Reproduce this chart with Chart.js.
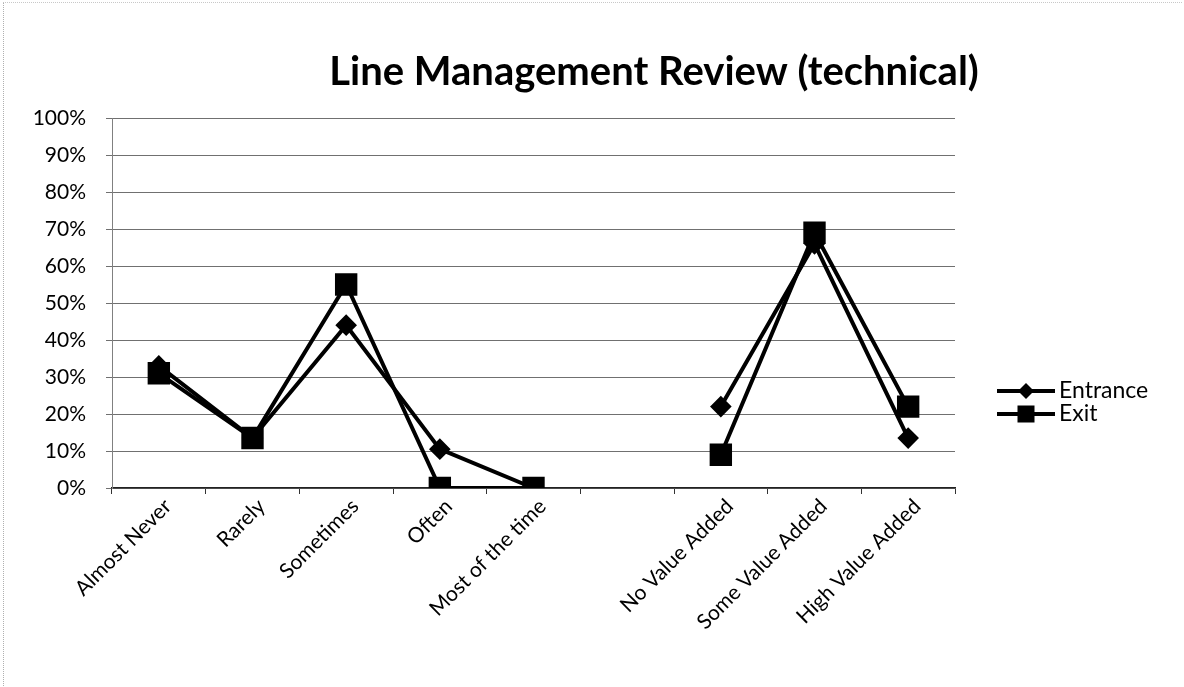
<!DOCTYPE html>
<html>
<head>
<meta charset="utf-8">
<script src="https://cdn.jsdelivr.net/npm/chart.js@4/dist/chart.umd.min.js"></script>
<style>
  html, body { margin: 0; padding: 0; background: #fff; }
  #wrap { position: relative; width: 1184px; height: 687px; }
  #frame { position: absolute; left: 3px; top: 2px; width: 1178px; height: 683px;
           border-left: 1px dotted #b0b0b0; border-top: 1px dotted #c8c8c8; pointer-events: none; }
</style>
</head>
<body>
<div id="wrap">
  <canvas id="c" width="1184" height="687"></canvas>
  <div id="frame"></div>
</div>
<script>
const chartTitle = 'Line Management Review (technical)';
const categories = ['Almost Never', 'Rarely', 'Sometimes', 'Often', 'Most of the time', '', 'No Value Added', 'Some Value Added', 'High Value Added'];
const entranceValues = [33, 13.5, 44, 10.5, 0, null, 22, 66, 13.5];
const exitValues = [31, 13.5, 55, 0, 0, null, 9, 69, 22];
const seriesNames = ['Entrance', 'Exit'];
const yTickValues = [0, 10, 20, 30, 40, 50, 60, 70, 80, 90, 100];

const FONT = 'Lato, "Open Sans", "DejaVu Sans", sans-serif';

const titlePlugin = {
  id: 'placedTitle',
  afterDraw(chart) {
    const ctx = chart.ctx;
    ctx.save();
    ctx.fillStyle = '#000';
    ctx.font = 'bold 40px ' + FONT;
    ctx.textAlign = 'center';
    ctx.textBaseline = 'middle';
    ctx.fillText(chartTitle, 654, 72);
    ctx.restore();
  }
};

const legendPlugin = {
  id: 'sideLegend',
  afterDraw(chart) {
    const ctx = chart.ctx;
    const x0 = 997, x1 = 1055, tx = 1059;
    const ys = [391, 414];
    chart.data.datasets.forEach((ds, i) => {
      const y = ys[i];
      ctx.save();
      ctx.strokeStyle = ds.borderColor;
      ctx.lineWidth = 4;
      ctx.beginPath(); ctx.moveTo(x0, y); ctx.lineTo(x1, y); ctx.stroke();
      ctx.fillStyle = ds.pointBackgroundColor;
      const cx = (x0 + x1) / 2;
      if (ds.pointStyle === 'rectRot') {
        const r = 8;
        ctx.beginPath(); ctx.moveTo(cx, y - r); ctx.lineTo(cx + r, y); ctx.lineTo(cx, y + r); ctx.lineTo(cx - r, y); ctx.closePath(); ctx.fill();
      } else {
        const s = 17;
        ctx.fillRect(cx - s / 2, y - s / 2, s, s);
      }
      ctx.fillStyle = '#000';
      ctx.font = '23px ' + FONT;
      ctx.textBaseline = 'middle';
      ctx.textAlign = 'left';
      ctx.fillText(ds.label, tx, y);
      ctx.restore();
    });
  }
};

new Chart(document.getElementById('c'), {
  type: 'line',
  data: {
    labels: categories,
    datasets: [
      { label: seriesNames[0], data: entranceValues, borderColor: '#000', backgroundColor: '#000',
        pointBackgroundColor: '#000', pointBorderColor: '#000', borderWidth: 4,
        pointStyle: 'rectRot', pointRadius: 8, pointHoverRadius: 8, spanGaps: false, tension: 0 },
      { label: seriesNames[1], data: exitValues, borderColor: '#000', backgroundColor: '#000',
        pointBackgroundColor: '#000', pointBorderColor: '#000', borderWidth: 4,
        pointStyle: 'rect', pointRadius: 13, pointHoverRadius: 13, spanGaps: false, tension: 0 }
    ]
  },
  options: {
    responsive: false,
    animation: false,
    layout: { padding: { left: 0, right: 229, top: 118, bottom: 0 } },
    plugins: {
      legend: { display: false },
      tooltip: { enabled: false },
      title: { display: false }
    },
    scales: {
      x: {
        offset: true,
        grid: { display: true, drawOnChartArea: false, drawTicks: true, tickLength: 6, offset: true, color: '#333' },
        border: { display: true, color: '#222', width: 1.5 },
        ticks: { color: '#000', font: { family: FONT, size: 21 }, maxRotation: 45, minRotation: 45, autoSkip: false, padding: 0, labelOffset: 9 },
        afterFit(scale) { scale.height = 199; }
      },
      y: {
        min: 0, max: 100,
        afterBuildTicks(scale) { scale.ticks = yTickValues.map(v => ({ value: v })); },
        grid: { color: '#707070', lineWidth: 1, tickLength: 6, drawTicks: true },
        border: { display: true, color: '#808080' },
        ticks: { color: '#000', font: { family: FONT, size: 21 }, padding: 20, callback: v => v + '%' },
        afterFit(scale) { scale.width = 112; }
      }
    }
  },
  plugins: [titlePlugin, legendPlugin]
});
</script>
</body>
</html>
